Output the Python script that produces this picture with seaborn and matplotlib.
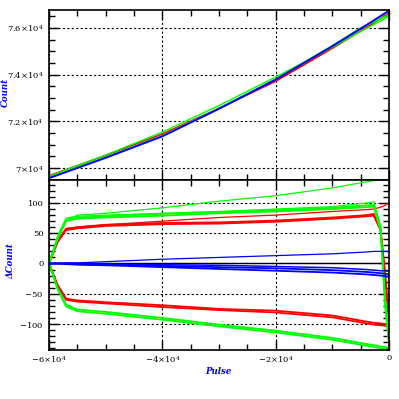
#import all relevant modules

import numpy as np
import pandas as pd
import matplotlib
matplotlib.use("Agg")
import matplotlib.pyplot as plt
from matplotlib.ticker import FixedLocator, MultipleLocator
import seaborn as sns


# data

# top panel: count vs pulse
pulse_top = [-60000, -50000, -40000, -30000, -20000, -10000, -5000, 0]
count_red = [69670, 70540, 71460, 72560, 73720, 75130, 75870, 76630]
count_green_a = [69650, 70560, 71540, 72680, 73900, 75170, 75850, 76490]
count_green_b = [69600, 70470, 71390, 72560, 73810, 75240, 76000, 76560]
count_blue = [69570, 70440, 71360, 72540, 73790, 75220, 75970, 76740]

# bottom panel: delta count vs pulse
pulse_low = [-60000, -58500, -57000, -55000, -50000, -40000, -30000,
             -20000, -10000, -4000, -2700, -1500, -700, 0]

red_up_a = [0, 35, 55, 58, 62, 65, 66, 69, 74, 78, 79, 55, -20, -90]
red_up_b = [0, 38, 57, 60, 64, 67, 68, 71, 76, 80, 82, 58, -15, -96]
red_thin = [0, 36, 58, 60, 64, 70, 76, 80, 86, 89, 90, 93, 96, 100]
red_low_a = [0, -35, -58, -61, -64, -69, -75, -78, -86, -96, -98, -99, -100, -101]
red_low_b = [0, -37, -60, -63, -66, -72, -77, -81, -89, -99, -101, -102, -103, -104]

green_up_a = [0, 40, 70, 74, 76, 79, 83, 86, 90, 93, 94, 55, -70, -130]
green_up_b = [0, 42, 72, 76, 78, 82, 85, 88, 92, 96, 97, 60, -60, -135]
green_up_c = [0, 45, 75, 78, 80, 83, 86, 90, 94, 100, 102, 62, -55, -125]
green_thin = [0, 40, 70, 80, 83, 92, 103, 112, 125, 135, 137, 138, 138, 138]
green_low_a = [0, -40, -68, -76, -80, -90, -101, -111, -123, -133, -135, -137, -138, -139]
green_low_b = [0, -42, -71, -79, -83, -93, -104, -114, -126, -136, -138, -140, -141, -142]

blue_a = [0, 0, 0, -1, -2, -4, -6, -8, -11, -14, -15, -16, -17, -18]
blue_b = [0, 0, -1, -2, -3, -6, -9, -12, -15, -18, -19, -20, -21, -22]
blue_c = [0, 0, 0, 0, -1, -2, -3, -5, -7, -10, -11, -12, -12, -13]
blue_thin = [0, 0, 1, 1, 3, 7, 10, 13, 16, 19, 20, 20, 20, 20]

top_ticks = [70000, 72000, 74000, 76000]
top_tick_labels = [r"$7{\times}10^4$", r"$7.2{\times}10^4$",
                   r"$7.4{\times}10^4$", r"$7.6{\times}10^4$"]
low_ticks = [-100, -50, 0, 50, 100]
low_tick_labels = [r"$-100$", r"$-50$", "0", "50", "100"]
x_ticks = [-60000, -40000, -20000, 0]
x_tick_labels = [r"$-6{\times}10^4$", r"$-4{\times}10^4$", r"$-2{\times}10^4$", "0"]

RED = "#ff0000"
GREEN = "#00ff00"
BLUE = "#0000ff"


sns.set_theme(style="white")
plt.rcParams["font.family"] = ["DejaVu Serif"]
plt.rcParams["mathtext.fontset"] = "dejavuserif"

fig = plt.figure(figsize=(3.99, 3.99), dpi=100)
W = 399.0
ax_top = fig.add_axes([49 / W, 1 - 180 / W, 340 / W, 170 / W])
ax_low = fig.add_axes([49 / W, 1 - 350 / W, 340 / W, 170 / W])


def line(ax, x, y, color, lw):
    sns.lineplot(x=x, y=y, color=color, linewidth=lw, ax=ax,
                 estimator=None, sort=False, legend=False)


# top panel
line(ax_top, pulse_top, count_red, RED, 1.2)
line(ax_top, pulse_top, count_green_a, GREEN, 1.0)
line(ax_top, pulse_top, count_green_b, GREEN, 1.2)
line(ax_top, pulse_top, count_blue, BLUE, 1.4)

# bottom panel
ax_low.axhline(0, color="black", lw=1.0, zorder=1)
for ys, lw in [(red_up_a, 1.3), (red_up_b, 1.3), (red_thin, 0.9),
               (red_low_a, 1.3), (red_low_b, 1.3)]:
    line(ax_low, pulse_low, ys, RED, lw)
for ys, lw in [(green_up_a, 1.3), (green_up_b, 1.3), (green_up_c, 0.9),
               (green_thin, 0.9), (green_low_a, 1.3), (green_low_b, 1.3)]:
    line(ax_low, pulse_low, ys, GREEN, lw)
for ys, lw in [(blue_a, 1.3), (blue_b, 1.3), (blue_c, 1.1), (blue_thin, 0.9)]:
    line(ax_low, pulse_low, ys, BLUE, lw)

# axes styling
for ax in (ax_top, ax_low):
    ax.set_xlim(-60000, 0)
    ax.xaxis.set_major_locator(FixedLocator(x_ticks))
    ax.xaxis.set_minor_locator(MultipleLocator(5000))
    ax.tick_params(which="both", direction="in", top=True, right=True,
                   left=True, bottom=True, colors="black", labelsize=6,
                   pad=4)
    ax.tick_params(which="major", length=7, width=1)
    ax.tick_params(which="minor", length=4, width=1)
    ax.grid(True, which="major", color="black", linestyle=(0, (2, 2)),
            linewidth=0.8)
    for s in ax.spines.values():
        s.set_color("black")
        s.set_linewidth(1.2)
    ax.set_facecolor("white")
    ax.set_xlabel("")
    ax.set_ylabel("")

ax_top.set_ylim(69490, 76770)
ax_top.yaxis.set_major_locator(FixedLocator(top_ticks))
ax_top.yaxis.set_minor_locator(MultipleLocator(500))
ax_top.set_yticklabels(top_tick_labels)
ax_top.set_xticklabels([])

ax_low.set_ylim(-143, 138)
ax_low.yaxis.set_major_locator(FixedLocator(low_ticks))
ax_low.yaxis.set_minor_locator(MultipleLocator(10))
ax_low.set_yticklabels(low_tick_labels)
ax_low.set_xticklabels(x_tick_labels)
ax_low.tick_params(axis="x", pad=3)

lab = dict(color=BLUE, fontsize=6.2, fontweight="bold", fontstyle="italic")
fig.text(5.5 / W, 1 - 92 / W, "Count", rotation=90, ha="center", va="center", **lab)
fig.text(10.5 / W, 1 - 261 / W, "\u0394Count", rotation=90, ha="center", va="center", **lab)
fig.text(218 / W, 1 - 371 / W, "Pulse", ha="center", va="center", **lab)

fig.savefig("out.png", dpi=100, facecolor="white")
